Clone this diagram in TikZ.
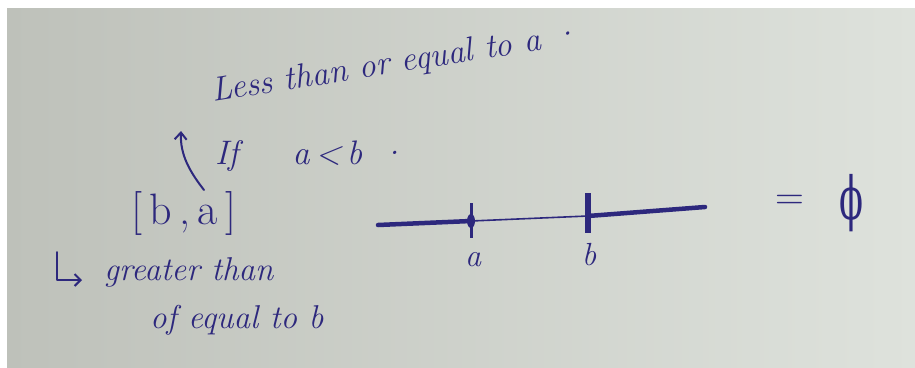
\documentclass[tikz,border=0pt]{standalone}
\usepackage{fontspec}
\newfontfamily\phifont{DejaVu Serif}
\usetikzlibrary{arrows.meta}
\definecolor{ink}{RGB}{45,40,125}
\definecolor{paperL}{RGB}{190,193,186}
\definecolor{paperR}{RGB}{222,226,220}
\begin{document}
\begin{tikzpicture}[x=1pt,y=-1pt,
  hand/.style={text=ink, font=\fontsize{32}{38}\selectfont\itshape, inner sep=0pt},
  pen/.style={draw=ink, line width=2pt, line cap=round, line join=round},
  thickline/.style={draw=ink, line width=4.5pt, line cap=round},
  thinline/.style={draw=ink, line width=1.6pt}]
\useasboundingbox (0,0) rectangle (915,367);
\fill[white] (0,0) rectangle (915,367);
\shade[left color=paperL, right color=paperR] (7,8) rectangle (915,367);
% texts
\node[hand, font=\fontsize{34}{40}\selectfont\itshape, rotate=9, anchor=base west] (less) at (213,102) {Less than or equal to a\ ·};
\node[hand, font=\fontsize{34}{40}\selectfont\itshape, anchor=base west] (if) at (215,164) {If\hspace{1.6em}a\,<\,b\hspace{0.5em}·};
\node[hand, font=\fontsize{44}{48}\selectfont, anchor=base west] (ba) at (131,224) {[\,b\,,\,a\,]};
\node[hand, font=\fontsize{33}{38}\selectfont\itshape, anchor=base west] (gt) at (104,280) {greater than};
\node[hand, font=\fontsize{33}{38}\selectfont\itshape, anchor=base west] (eqb) at (150,328) {of equal to b};
% curved arrow
\coordinate (arrS) at (204,190);
\coordinate (arrE) at (181,131);
\draw[pen, -{Straight Barb[length=7pt,width=12pt]}] (arrS) .. controls (190,172) and (180,155) .. (arrE);
% hooked arrow
\coordinate (h1) at (57,252);
\coordinate (h2) at (82,280);
\draw[pen, -{Straight Barb[length=6pt,width=12pt]}] (h1) |- (h2);
% number line
\coordinate (L) at (378,225);
\coordinate (A) at (471,221);
\coordinate (B) at (588,216);
\coordinate (R) at (705,207);
\draw[thickline] (L) -- (A);
\draw[thinline] (A) -- (B);
\draw[thickline] (B) -- (R);
\draw[ink, line width=3pt] (471,203) -- (471,238);
\fill[ink] (A) ellipse [x radius=4, y radius=7];
\draw[ink, line width=5.5pt] (588,193) -- (588,233);
\node[hand] (la) at (473,260) {a};
\node[hand] (lb) at (589,255) {b};
% = phi
\node[hand, font=\fontsize{40}{44}\selectfont] (eq) at (790,202) {=};
\node[text=ink, inner sep=0pt] (phi) at (851,203) {\scalebox{0.8}[1.35]{\phifont\fontsize{44}{48}\selectfont ϕ}};
\end{tikzpicture}
\end{document}
